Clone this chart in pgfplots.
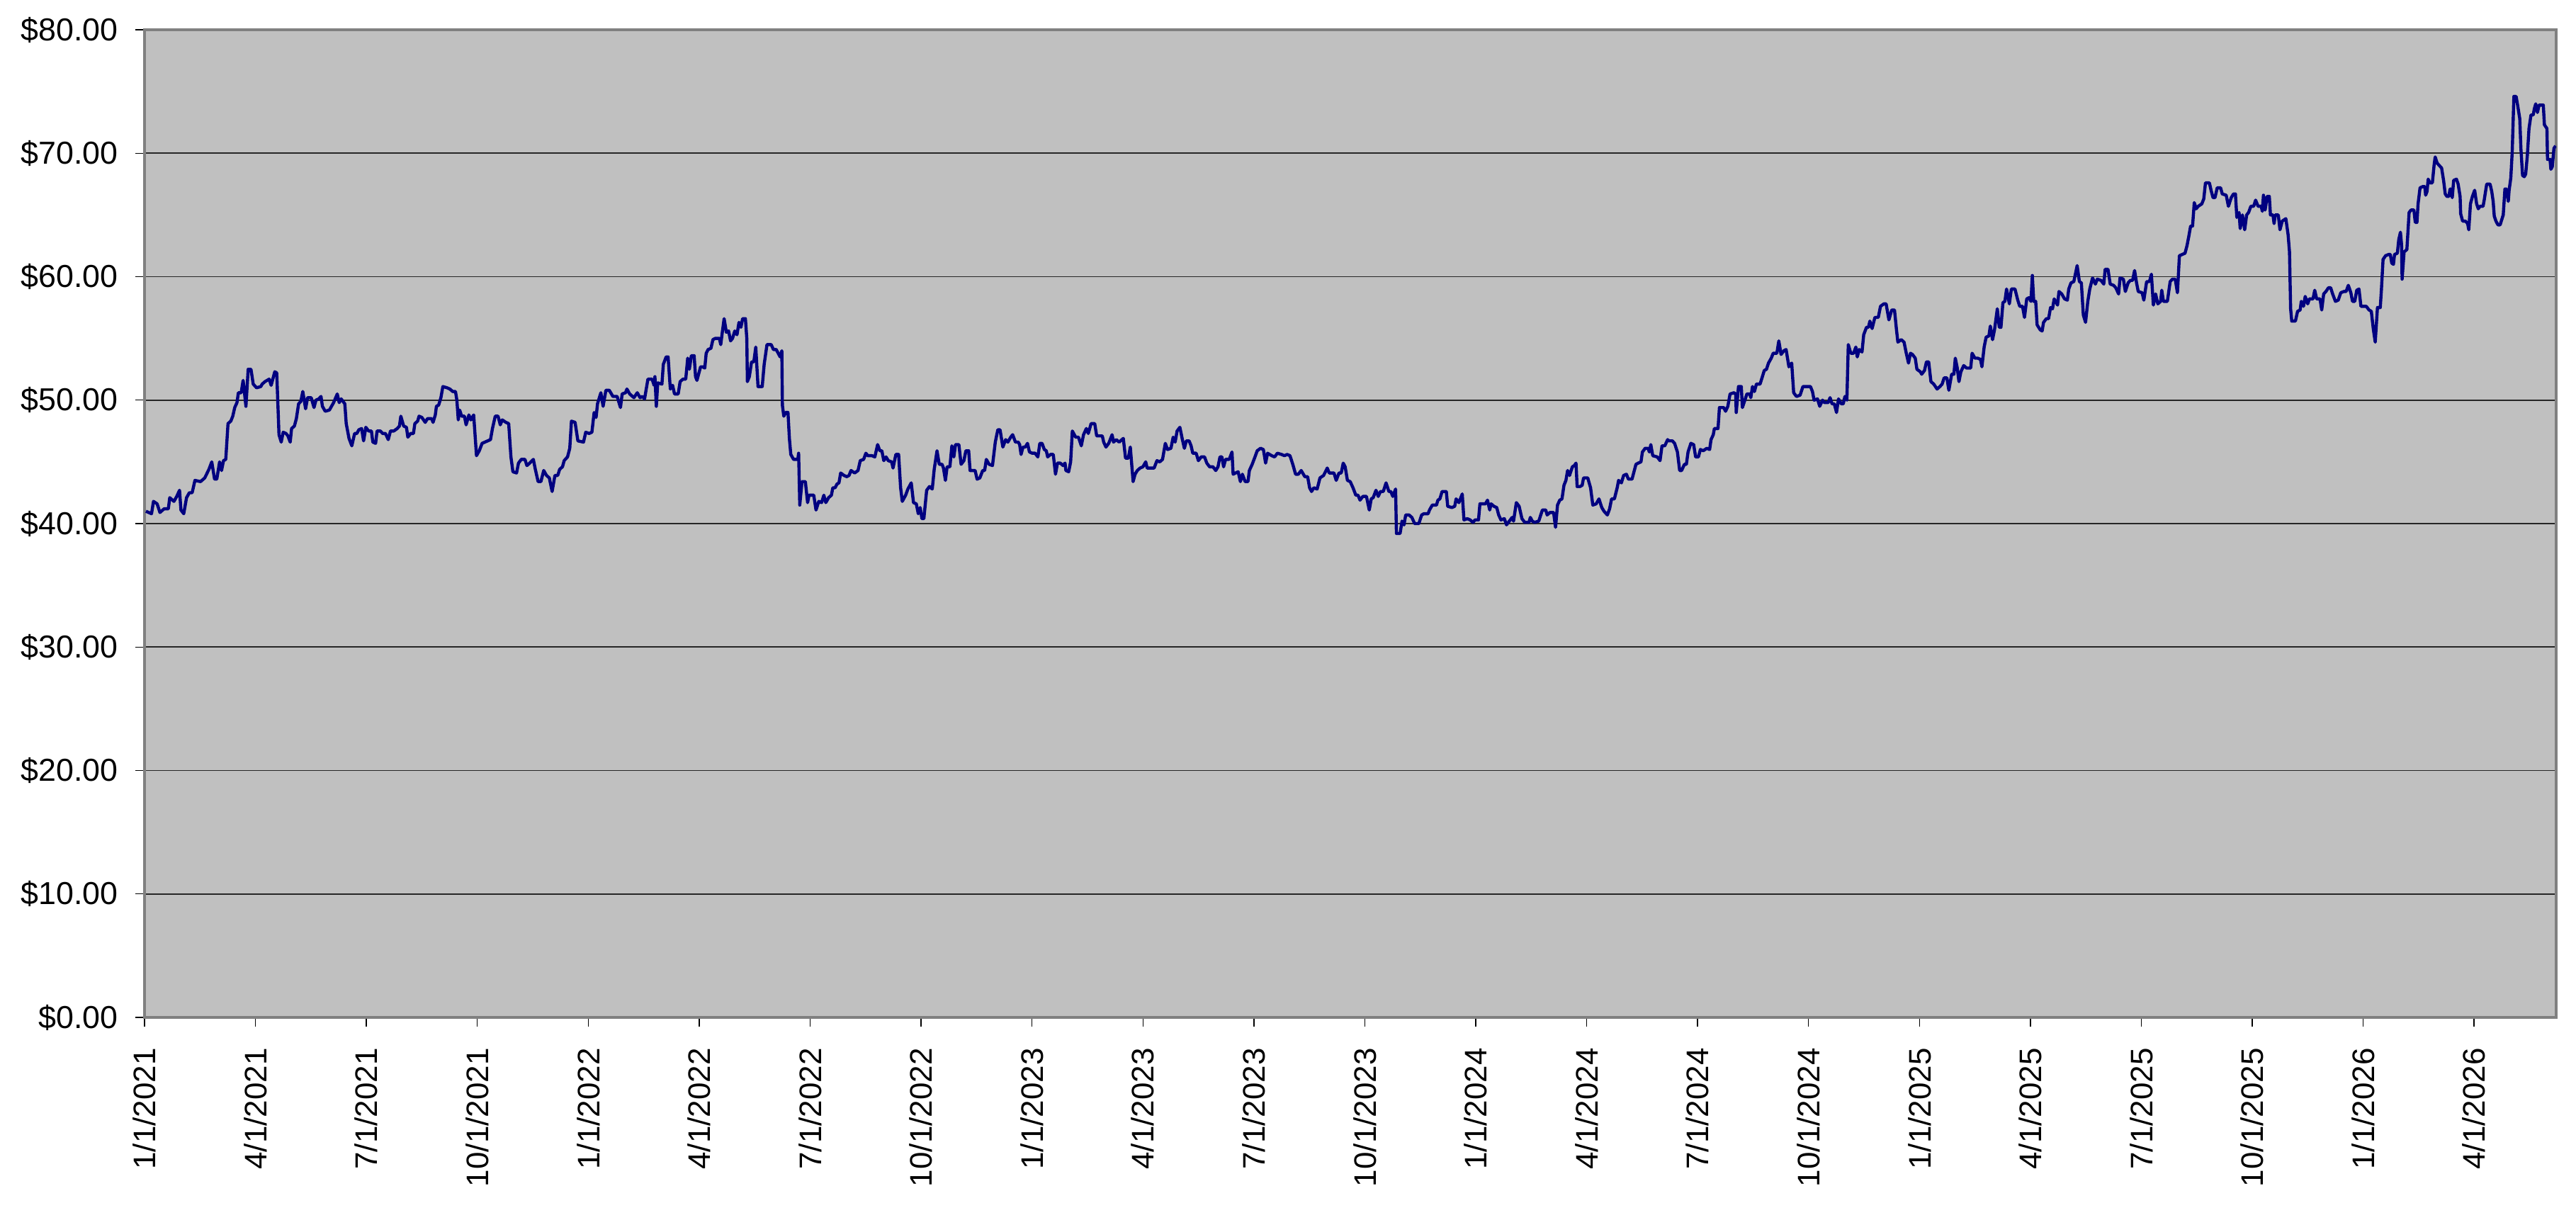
\documentclass[border=0pt]{standalone}
\usepackage{pgfplots}
\pgfplotsset{compat=1.18}
\usepackage{fontspec}
\setmainfont{Liberation Sans}
\definecolor{plotbg}{HTML}{C0C0C0}
\definecolor{navyline}{HTML}{000080}
\definecolor{frame}{HTML}{808080}
\begin{document}
\begin{tikzpicture}
\useasboundingbox (-51pt,-73pt) rectangle (858pt,359pt);
\begin{axis}[
 scale only axis, width=851pt, height=348.5pt,
 xmin=0, xmax=8609, ymin=0, ymax=80,
 axis background/.style={fill=plotbg},
 axis line style={draw=frame, line width=1.1pt},
 xtick={0,396,...,8316},
 xticklabels={1/1/2021,4/1/2021,7/1/2021,10/1/2021,1/1/2022,4/1/2022,7/1/2022,10/1/2022,1/1/2023,4/1/2023,7/1/2023,10/1/2023,1/1/2024,4/1/2024,7/1/2024,10/1/2024,1/1/2025,4/1/2025,7/1/2025,10/1/2025,1/1/2026,4/1/2026},
 ytick={0,10,...,80},
 /pgf/number format/assume math mode=true,
 yticklabel={\$\pgfmathprintnumber[fixed,fixed zerofill,precision=2]{\tick}},
 ymajorgrids, grid style={draw=black!85, line width=0.4pt},
 tick align=outside, tick pos=left, major tick length=3.3pt,
 tick style={black, line width=0.35pt},
 xticklabel style={yshift=-4pt, rotate=90, anchor=east, font=\fontsize{11}{13}\selectfont},
 yticklabel style={xshift=-2.5pt, font=\fontsize{11.2}{13}\selectfont},
]
\addplot[navyline, line width=1.1pt, line join=round] coordinates {
(5,41.0)(25,40.8)(32,41.8)(45,41.6)(55,40.9)(70,41.2)(85,41.2)(90,42.1)(105,41.8)(115,42.2)(125,42.7)(130,41.1)(140,40.8)(150,42.1)(160,42.5)(170,42.5)(180,43.5)(200,43.4)(215,43.7)(230,44.4)(240,45.0)(250,43.6)(258,43.6)(268,45.0)(275,44.3)(282,45.1)(290,45.2)(298,48.1)(308,48.3)(315,48.7)(322,49.4)(330,49.8)(335,50.6)(345,50.6)(352,51.6)(362,49.5)(370,52.5)(380,52.5)(388,51.3)(400,51.0)(415,51.1)(420,51.3)(430,51.5)(445,51.7)(452,51.2)(465,52.3)(472,52.2)(480,47.2)(488,46.6)(495,47.4)(505,47.3)(512,47.1)(520,46.6)(525,47.7)(535,47.9)(542,48.5)(550,49.7)(558,49.9)(565,50.7)(575,49.3)(582,50.2)(595,50.2)(605,49.4)(612,50.0)(622,50.1)(630,50.3)(635,49.5)(645,49.1)(660,49.2)(675,49.8)(688,50.5)(695,49.8)(702,50.1)(715,49.7)(720,48.1)(730,46.9)(740,46.3)(750,47.3)(758,47.3)(765,47.6)(775,47.7)(782,46.7)(790,47.8)(800,47.5)(810,47.5)(815,46.6)(825,46.5)(830,47.5)(842,47.5)(850,47.3)(860,47.3)(870,46.8)(878,47.5)(890,47.5)(902,47.7)(910,47.9)(915,48.7)(925,47.9)(935,47.8)(940,47.0)(950,47.3)(960,47.3)(965,48.1)(975,48.3)(980,48.7)(990,48.6)(1002,48.2)(1010,48.5)(1025,48.5)(1030,48.2)(1038,48.8)(1042,49.5)(1050,49.6)(1058,50.2)(1065,51.1)(1080,51.0)(1090,50.9)(1100,50.7)(1110,50.7)(1115,50.0)(1120,48.4)(1125,49.2)(1132,48.7)(1142,48.7)(1148,48.0)(1158,48.8)(1165,48.4)(1175,48.8)(1185,45.5)(1195,45.9)(1205,46.5)(1215,46.6)(1225,46.7)(1235,46.8)(1242,47.7)(1252,48.7)(1262,48.7)(1270,48.0)(1277,48.4)(1290,48.2)(1300,48.1)(1308,45.4)(1315,44.2)(1328,44.1)(1335,44.9)(1345,45.2)(1358,45.2)(1365,44.7)(1375,44.9)(1388,45.2)(1395,44.4)(1405,43.4)(1415,43.4)(1425,44.3)(1435,43.9)(1445,43.7)(1455,42.6)(1465,43.9)(1475,43.9)(1482,44.4)(1492,44.6)(1498,45.1)(1510,45.4)(1518,46.1)
(1524,48.3)(1537,48.2)(1547,46.7)(1567,46.6)(1575,47.4)(1587,47.3)(1597,47.4)(1605,49.0)(1612,48.6)(1617,49.7)(1629,50.6)(1637,49.5)(1647,50.8)(1659,50.8)(1672,50.3)(1687,50.3)(1699,49.4)(1705,50.5)(1717,50.6)(1722,50.9)(1732,50.5)(1747,50.2)(1759,50.6)(1769,50.2)(1777,50.3)(1785,50.1)(1797,51.7)(1812,51.7)(1819,51.2)(1822,51.9)(1827,49.5)(1832,51.4)(1847,51.3)(1852,52.9)(1862,53.5)(1869,53.5)(1877,50.9)(1885,51.2)(1892,50.5)(1905,50.5)(1912,51.5)(1922,51.7)(1932,51.7)(1939,53.4)(1945,52.5)(1952,53.6)(1962,53.6)(1967,51.9)(1972,51.6)(1985,52.7)(1992,52.7)(2000,52.6)(2005,53.8)(2012,54.1)(2022,54.2)(2029,54.9)(2037,55.0)(2052,55.0)(2057,54.5)(2062,55.4)(2069,56.6)(2077,55.5)(2085,55.6)(2092,54.8)(2099,55.0)(2107,55.6)(2115,55.3)(2122,56.3)(2129,55.9)(2135,56.6)(2145,56.6)(2150,55.0)(2152,51.5)(2159,51.9)(2167,53.1)(2175,53.1)(2182,54.3)(2190,51.1)(2205,51.1)(2212,52.9)(2222,54.5)(2237,54.5)(2245,54.1)(2255,54.1)(2262,53.8)(2269,53.5)(2275,54.0)(2277,49.6)(2282,48.7)(2289,49.0)(2297,49.0)(2302,46.9)(2307,45.6)(2317,45.2)(2332,45.2)(2335,45.7)(2339,41.5)(2347,43.4)(2359,43.4)(2367,41.7)(2372,42.3)(2389,42.3)(2397,41.1)(2407,41.8)(2417,41.7)(2425,42.3)(2432,41.7)(2442,42.1)(2452,42.3)(2457,42.9)(2465,42.9)(2472,43.2)(2479,43.3)(2485,44.1)(2497,43.9)(2507,43.8)(2515,43.9)(2522,44.3)(2535,44.1)(2547,44.3)(2555,45.1)(2567,45.2)(2575,45.7)(2582,45.5)(2597,45.5)(2607,45.4)(2617,46.4)(2625,45.9)(2632,45.9)(2639,45.1)(2647,45.4)(2655,45.1)(2667,45.0)(2672,44.5)(2682,45.6)(2692,45.6)(2699,42.9)(2705,41.8)(2717,42.3)(2725,42.8)(2737,43.3)(2745,41.7)(2755,41.6)(2762,40.8)(2769,41.3)(2775,40.4)(2782,40.4)(2792,42.7)(2802,43.0)(2812,42.8)(2819,44.4)(2829,45.9)(2837,44.8)(2847,44.8)(2852,44.5)(2859,43.5)(2865,44.6)(2875,44.6)(2882,46.3)(2889,45.4)(2895,46.4)(2907,46.4)(2915,44.8)(2925,45.1)(2932,45.9)(2942,45.9)(2947,44.3)(2957,44.3)(2965,44.3)(2972,43.6)(2982,43.7)(2992,44.3)(2999,44.3)(3005,45.2)(3015,44.8)(3027,44.7)(3037,46.6)
(3046,47.6)(3054,47.6)(3064,46.2)(3074,46.8)(3082,46.6)(3092,47.0)(3099,47.2)(3109,46.6)(3119,46.6)(3124,46.4)(3129,45.6)(3136,46.2)(3144,46.2)(3152,46.5)(3159,45.8)(3169,45.7)(3179,45.7)(3189,45.4)(3196,46.5)(3204,46.5)(3212,46.0)(3219,45.9)(3224,45.4)(3234,45.6)(3244,45.6)(3252,44.0)(3259,44.9)(3269,44.9)(3279,44.7)(3286,44.9)(3289,44.3)(3299,44.2)(3306,45.0)(3312,47.5)(3324,47.0)(3334,47.0)(3344,46.3)(3352,47.2)(3362,47.7)(3369,47.3)(3379,48.1)(3392,48.1)(3399,47.1)(3409,47.1)(3419,47.1)(3424,46.6)(3432,46.2)(3442,46.5)(3454,47.2)(3459,46.6)(3469,46.8)(3479,46.6)(3494,46.9)(3502,45.3)(3512,45.3)(3519,46.2)(3529,43.4)(3536,44.0)(3544,44.3)(3554,44.5)(3564,44.6)(3574,45.0)(3579,44.5)(3592,44.5)(3604,44.5)(3614,45.1)(3624,45.0)(3634,45.2)(3644,46.5)(3652,46.0)(3664,46.1)(3672,47.0)(3679,46.6)(3686,47.5)(3696,47.8)(3704,46.9)(3712,46.1)(3719,46.7)(3729,46.7)(3736,46.3)(3742,45.7)(3754,45.7)(3762,45.1)(3772,45.4)(3784,45.4)(3792,44.9)(3802,44.6)(3814,44.6)(3824,44.3)(3832,44.6)(3839,45.4)(3846,45.4)(3852,44.6)(3859,45.2)(3872,45.2)(3882,45.8)(3886,44.0)(3904,44.2)(3912,43.4)(3919,44.0)(3929,43.4)(3939,43.4)(3944,44.3)(3954,44.8)(3964,45.4)(3972,45.9)(3984,46.1)(3994,46.0)(4002,44.9)(4009,45.7)(4024,45.5)(4034,45.4)(4044,45.7)(4059,45.6)(4069,45.5)(4079,45.6)(4089,45.5)(4099,44.8)(4109,44.0)(4119,44.0)(4129,44.3)(4142,43.8)(4152,43.8)(4159,42.9)(4166,42.6)(4174,42.9)(4186,42.8)(4196,43.7)(4209,43.9)(4222,44.5)(4229,44.1)(4246,44.1)(4254,43.5)(4264,44.1)(4272,44.1)(4279,44.9)(4286,44.6)(4294,43.5)(4304,43.4)(4314,42.9)(4324,42.3)(4332,42.3)(4339,41.9)(4349,42.2)(4362,42.2)(4372,41.1)(4379,42.0)(4386,42.1)(4396,42.7)(4404,42.2)(4412,42.6)(4422,42.6)(4432,43.3)(4442,42.6)(4449,42.6)(4456,42.2)(4466,42.8)(4469,39.2)(4482,39.2)(4489,40.2)(4496,39.9)(4502,40.7)(4514,40.7)(4524,40.5)(4534,40.0)(4549,40.0)(4559,40.7)
(4567,40.8)(4582,40.8)(4587,41.1)(4597,41.5)(4612,41.5)(4617,41.9)(4624,42.0)(4632,42.6)(4647,42.6)(4652,41.4)(4667,41.3)(4677,41.4)(4682,42.0)(4692,41.7)(4704,42.4)(4710,40.3)(4722,40.4)(4732,40.3)(4742,40.1)(4750,40.3)(4762,40.3)(4767,41.6)(4777,41.6)(4787,41.6)(4794,41.9)(4802,41.1)(4807,41.6)(4817,41.4)(4827,41.3)(4834,40.7)(4842,40.3)(4854,40.4)(4862,39.9)(4872,40.2)(4882,40.5)(4887,40.2)(4897,41.7)(4907,41.4)(4917,40.4)(4927,40.1)(4942,40.1)(4947,40.5)(4954,40.2)(4962,40.1)(4977,40.2)(4990,41.1)(5002,41.1)(5007,40.7)(5017,40.9)(5030,40.9)(5037,39.7)(5044,41.5)(5052,41.9)(5060,42.0)(5067,43.1)(5074,43.5)(5080,44.3)(5087,43.9)(5097,44.6)(5104,44.7)(5110,44.9)(5114,43.0)(5124,43.0)(5132,43.1)(5137,43.7)(5152,43.7)(5162,42.9)(5170,41.5)(5182,41.6)(5192,42.0)(5202,41.3)(5210,41.0)(5222,40.7)(5230,41.2)(5237,42.0)(5247,42.0)(5257,42.9)(5262,43.5)(5272,43.3)(5280,43.9)(5290,44.0)(5297,43.6)(5310,43.6)(5317,44.2)(5324,44.8)(5332,44.9)(5342,45.0)(5347,45.8)(5357,46.1)(5367,46.1)(5372,45.8)(5377,46.4)(5384,45.5)(5400,45.4)(5410,45.1)(5417,46.3)(5427,46.3)(5437,46.8)(5442,46.7)(5454,46.7)(5462,46.5)(5472,45.8)(5480,44.3)(5487,44.3)(5497,44.8)(5504,44.8)(5510,45.8)(5520,46.5)(5530,46.4)(5537,45.4)(5547,45.4)(5554,46.0)(5564,45.9)(5577,46.1)(5587,46.0)(5592,46.8)(5600,47.2)(5604,47.7)(5617,47.7)(5622,49.4)(5637,49.4)(5644,49.1)(5652,49.5)(5660,50.5)(5674,50.6)(5680,50.5)(5682,49.0)(5690,51.1)(5700,51.1)(5704,49.4)(5710,49.8)(5720,50.5)(5730,50.5)(5734,50.2)(5740,51.1)(5747,50.7)(5754,51.3)(5767,51.3)(5774,51.8)(5782,52.4)(5790,52.5)(5797,53.0)(5807,53.4)(5814,53.8)(5827,53.8)(5834,54.8)(5842,53.7)(5852,54.0)(5860,54.1)(5870,52.7)(5880,53.0)(5887,50.6)(5897,50.3)(5910,50.4)(5920,51.1)(5930,51.1)(5947,51.1)(5954,50.7)(5960,50.0)(5972,50.1)(5980,49.5)(5990,50.0)(5997,49.8)(6010,49.8)(6017,50.2)(6024,49.7)(6032,49.7)(6040,49.0)(6047,50.1)(6057,49.7)(6064,49.7)(6070,50.3)(6077,50.0)(6082,54.5)
(6091,53.8)(6101,53.8)(6109,54.3)(6114,53.5)(6121,54.1)(6131,53.9)(6137,55.3)(6147,55.9)(6154,55.9)(6159,56.4)(6167,55.8)(6177,56.7)(6189,56.7)(6197,57.6)(6209,57.8)(6217,57.8)(6227,56.5)(6237,57.3)(6247,57.3)(6254,55.7)(6259,54.7)(6271,54.9)(6281,54.7)(6289,53.8)(6297,53.0)(6304,53.8)(6311,53.7)(6321,53.4)(6327,52.5)(6339,52.3)(6344,52.1)(6354,52.4)(6361,53.1)(6369,53.1)(6377,51.5)(6387,51.3)(6399,50.9)(6409,51.1)(6417,51.3)(6424,51.8)(6434,51.8)(6441,50.8)(6451,52.1)(6459,52.1)(6464,53.4)(6471,52.6)(6477,51.5)(6484,52.3)(6494,52.8)(6504,52.6)(6519,52.6)(6524,53.8)(6534,53.4)(6544,53.4)(6554,53.3)(6559,52.7)(6567,54.3)(6574,55.1)(6584,55.2)(6589,56.0)(6597,54.9)(6604,55.7)(6614,57.4)(6621,55.9)(6627,55.9)(6634,57.9)(6641,58.0)(6647,59.0)(6657,57.8)(6664,59.0)(6677,59.0)(6687,58.1)(6694,57.6)(6704,57.6)(6711,56.7)(6719,58.2)(6727,58.3)(6734,58.0)(6739,60.1)(6744,58.0)(6751,58.0)(6756,56.1)(6767,55.7)(6774,55.6)(6779,56.3)(6789,56.6)(6797,56.6)(6804,57.5)(6811,57.4)(6817,58.2)(6829,57.7)(6834,58.8)(6844,58.6)(6854,58.2)(6864,58.1)(6869,59.0)(6877,59.5)(6887,59.6)(6899,60.9)(6907,59.6)(6914,59.5)(6921,56.9)(6929,56.3)(6937,58.0)(6944,59.0)(6954,59.9)(6964,59.4)(6971,59.8)(6984,59.7)(6994,59.4)(6999,60.6)(7009,60.6)(7017,59.4)(7029,59.3)(7037,59.1)(7047,58.6)(7052,59.9)(7064,59.8)(7071,58.8)(7081,59.5)(7089,59.7)(7097,59.7)(7104,60.5)(7111,59.5)(7117,58.8)(7131,58.7)(7137,58.1)(7147,59.6)(7157,59.6)(7164,60.2)(7171,57.7)(7179,58.6)(7187,57.8)(7197,58.0)(7201,58.9)(7207,58.0)(7221,58.0)(7231,59.6)(7239,59.8)(7249,59.8)(7257,58.7)(7264,61.7)(7274,61.8)(7284,61.9)(7291,62.5)(7297,63.2)(7304,64.1)(7311,64.1)(7317,66.0)(7324,65.5)(7331,65.7)(7344,65.9)(7351,66.3)(7357,67.6)(7371,67.6)(7377,67.0)(7384,66.4)(7391,66.4)(7399,67.2)(7411,67.2)(7417,66.7)(7431,66.6)(7439,65.7)(7449,66.4)(7457,66.7)(7464,66.7)(7469,64.8)(7477,65.2)(7481,63.9)(7489,65.0)(7497,63.8)(7504,65.0)(7511,65.2)(7519,65.7)(7529,65.7)
(7536,66.2)(7545,65.7)(7556,65.7)(7560,65.3)(7564,66.6)(7570,65.4)(7577,66.5)(7585,66.5)(7589,65.0)(7598,65.0)(7602,64.3)(7606,65.0)(7617,65.0)(7623,63.8)(7631,64.5)(7644,64.7)(7652,63.4)(7657,62.0)(7661,57.4)(7665,56.4)(7678,56.4)(7686,57.2)(7695,57.3)(7699,58.0)(7707,57.6)(7713,58.4)(7722,57.8)(7728,58.2)(7741,58.2)(7747,58.9)(7754,58.2)(7766,58.2)(7772,57.3)(7779,58.6)(7787,58.8)(7796,59.1)(7804,59.1)(7811,58.6)(7821,58.0)(7831,58.1)(7840,58.7)(7851,58.8)(7859,58.8)(7867,59.3)(7876,58.7)(7882,58.0)(7890,58.0)(7897,58.9)(7905,59.0)(7912,57.6)(7922,57.6)(7931,57.6)(7941,57.3)(7949,57.2)(7956,55.8)(7963,54.7)(7971,57.5)(7981,57.5)(7985,58.9)(7991,61.4)(8000,61.7)(8011,61.8)(8017,61.8)(8022,61.1)(8028,61.0)(8032,61.8)(8042,61.9)(8047,63.0)(8053,63.6)(8057,62.6)(8059,59.8)(8066,62.0)(8076,62.2)(8084,65.2)(8091,65.4)(8101,65.4)(8106,64.4)(8112,64.4)(8116,65.9)(8123,67.2)(8133,67.3)(8140,67.3)(8143,66.6)(8148,66.9)(8152,67.9)(8158,67.6)(8167,67.6)(8173,69.0)(8177,69.7)(8184,69.2)(8192,69.0)(8200,68.8)(8207,67.8)(8213,66.7)(8219,66.5)(8226,66.5)(8230,67.1)(8234,67.1)(8238,66.4)(8243,67.8)(8253,67.9)(8259,67.5)(8266,66.5)(8268,65.1)(8275,64.5)(8285,64.5)(8293,64.3)(8297,63.8)(8303,65.9)(8310,66.5)(8318,67.0)(8325,65.9)(8331,65.5)(8337,65.7)(8348,65.7)(8352,66.2)(8361,67.5)(8373,67.5)(8379,66.9)(8384,66.1)(8388,64.9)(8394,64.5)(8401,64.2)(8409,64.2)(8413,64.5)(8420,65.0)(8426,67.1)(8432,67.1)(8438,66.1)(8441,67.0)(8447,68.0)(8452,70.1)(8458,74.6)(8466,74.6)(8472,73.8)(8479,72.8)(8483,70.4)(8489,68.2)(8495,68.1)(8500,68.3)(8506,69.8)(8512,72.0)(8519,73.1)(8527,73.1)(8531,73.6)(8536,74.0)(8542,73.3)(8548,73.9)(8559,73.9)(8563,73.9)(8567,72.3)(8576,72.0)(8578,69.5)(8587,69.5)(8590,68.7)(8595,68.9)(8601,70.4)(8607,70.6)
};
\end{axis}
\end{tikzpicture}
\end{document}
